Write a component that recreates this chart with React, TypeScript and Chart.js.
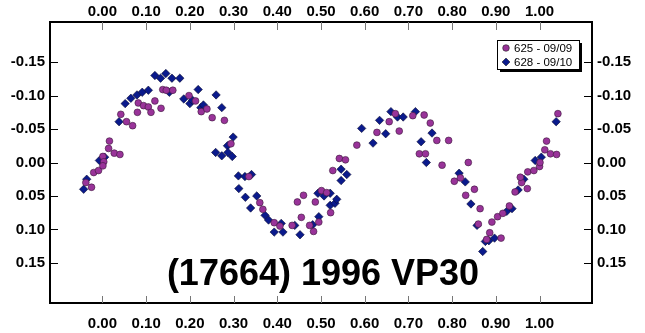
import React, { useEffect, useRef } from 'react';
import { Chart, registerables } from 'chart.js';

Chart.register(...registerables);

// ---- data ----
const xTicks = [0, 0.1, 0.2, 0.3, 0.4, 0.5, 0.6, 0.7, 0.8, 0.9, 1.0];
const yTicks = [-0.15, -0.1, -0.05, 0, 0.05, 0.1, 0.15];
const seriesLabels = ['625 - 09/09', '628 - 09/10'];
const titleText = '(17664) 1996 VP30';

const phase625 = [
  -0.038, -0.025, -0.020, -0.009, 0.001, 0.003, 0.001, 0.014, 0.016, 0.027, 0.040,
  0.042, 0.055, 0.069, 0.080, 0.082, 0.094, 0.105, 0.111, 0.120, 0.134, 0.138, 0.146, 0.161,
  0.198, 0.213, 0.226, 0.239, 0.251, 0.279, 0.294,
  0.335, 0.360, 0.367, 0.393, 0.406, 0.434, 0.446, 0.460, 0.455, 0.474, 0.483, 0.495, 0.487,
  0.501, 0.513, 0.522, 0.527, 0.542, 0.556, 0.582, 0.628, 0.656, 0.670, 0.679, 0.710, 0.736,
  0.750, 0.765, 0.792, 0.725, 0.739, 0.777, 0.837, 0.805, 0.819, 0.851, 0.831, 0.864, 0.860,
  0.891, 0.904, 0.916, 0.931, 0.886, 0.879, 0.912, 0.944, 0.959, 0.956, 0.972, 0.973, 0.987,
  1.000, 1.001, 1.012, 1.016, 1.025, 1.039, 1.042,
];
const mag625 = [
  0.030, 0.037, 0.015, 0.012, -0.009, -0.001, 0.005, -0.021, -0.032, -0.014, -0.012,
  -0.072, -0.061, -0.055, -0.075, -0.089, -0.085, -0.083, -0.075, -0.092, -0.081, -0.109, -0.108, -0.108,
  -0.100, -0.092, -0.076, -0.080, -0.067, -0.063, -0.028,
  0.021, 0.060, 0.070, 0.090, 0.095, 0.094, 0.059, 0.049, 0.082, 0.094, 0.103, 0.089, 0.059,
  0.042, 0.045, 0.075, 0.012, -0.006, -0.004, -0.026, -0.045, -0.061, -0.073, -0.047, -0.070, -0.071,
  -0.059, -0.033, -0.033, -0.013, -0.013, 0.004, 0.000, 0.028, 0.023, 0.040, 0.049, 0.069, 0.092,
  0.089, 0.081, 0.076, 0.065, 0.105, 0.115, 0.113, 0.044, 0.030, 0.022, 0.039, 0.014, 0.012,
  0.006, 0.000, -0.019, -0.032, -0.013, -0.012, -0.073,
];

const phase628 = [
  -0.043, -0.036, -0.007, 0.005, 0.038, 0.052, 0.065, 0.079, 0.091, 0.105, 0.120, 0.133, 0.145,
  0.153, 0.159, 0.177, 0.186, 0.200, 0.206, 0.219, 0.225, 0.231, 0.260, 0.273, 0.259, 0.273,
  0.286, 0.287, 0.299, 0.297, 0.311, 0.326, 0.341, 0.312, 0.327, 0.353, 0.339, 0.372, 0.380,
  0.409, 0.393, 0.413, 0.440, 0.452, 0.481, 0.495, 0.493, 0.507, 0.521, 0.521, 0.532, 0.536,
  0.546, 0.559, 0.546, 0.593, 0.619, 0.634, 0.648, 0.660, 0.675, 0.688, 0.716, 0.729, 0.754,
  0.741, 0.816, 0.830, 0.843, 0.857, 0.876, 0.884, 0.897, 0.870, 0.925, 0.937, 0.951, 0.964,
  0.990, 1.004, 1.038,
];
const mag628 = [
  0.040, 0.025, -0.003, -0.008, -0.061, -0.088, -0.096, -0.101, -0.105, -0.108, -0.130, -0.126, -0.133,
  -0.105, -0.126, -0.126, -0.095, -0.088, -0.093, -0.109, -0.082, -0.086, -0.101, -0.082, -0.015, -0.010,
  -0.025, -0.015, -0.038, -0.009, 0.020, 0.021, 0.018, 0.039, 0.052, 0.050, 0.068, 0.079, 0.086,
  0.091, 0.104, 0.104, 0.094, 0.108, 0.093, 0.081, 0.046, 0.050, 0.046, 0.064, 0.061, 0.055,
  0.027, 0.018, 0.010, -0.051, -0.029, -0.063, -0.043, -0.076, -0.068, -0.068, -0.076, -0.031, -0.044,
  0.000, 0.016, 0.029, 0.062, 0.094, 0.118, 0.117, 0.113, 0.133, 0.073, 0.069, 0.041, 0.025,
  -0.003, -0.008, -0.061,
];

// ---- styles ----
const FONT = "'Liberation Sans', Arial, Helvetica, sans-serif";
const C625 = '#993399';
const C628 = '#0a1a8c';

const fmt = (v: number) => {
  const r = Math.round(v * 100) / 100;
  if (Math.abs(r) < 1e-9) return '0.00';
  return r.toFixed(2);
};

const innerTicks = {
  id: 'innerTicks',
  afterDraw(chart: any) {
    const { ctx, chartArea: a, scales } = chart;
    ctx.save();
    ctx.lineWidth = 1;
    ctx.strokeStyle = '#777';
    for (const v of xTicks) {
      const px = Math.round(scales.x.getPixelForValue(v)) + 0.5;
      ctx.beginPath();
      ctx.moveTo(px, a.bottom);
      ctx.lineTo(px, a.bottom - 7);
      ctx.moveTo(px, a.top);
      ctx.lineTo(px, a.top + 8);
      ctx.stroke();
    }
    ctx.strokeStyle = '#000';
    for (const v of yTicks) {
      const py = Math.round(scales.y.getPixelForValue(v)) + 0.5;
      ctx.beginPath();
      ctx.moveTo(a.left, py);
      ctx.lineTo(a.left + 8, py);
      ctx.moveTo(a.right, py);
      ctx.lineTo(a.right - 8, py);
      ctx.stroke();
    }
    ctx.restore();
  },
};

const titleAndLegend = {
  id: 'titleAndLegend',
  afterDraw(chart: any) {
    const { ctx, chartArea: a } = chart;
    ctx.save();
    // title inside plot
    ctx.fillStyle = '#000';
    ctx.font = `bold 36px ${FONT}`;
    ctx.textAlign = 'center';
    ctx.textBaseline = 'alphabetic';
    ctx.fillText(titleText, (a.left + a.right) / 2 + 2, 285);

    // legend box
    const bx = 497, by = 40, bw = 82, bh = 29;
    ctx.fillStyle = '#000';
    ctx.fillRect(bx + 3, by + 3, bw, bh);
    ctx.fillStyle = '#fff';
    ctx.fillRect(bx, by, bw, bh);
    ctx.strokeStyle = '#000';
    ctx.lineWidth = 1;
    ctx.strokeRect(bx + 0.5, by + 0.5, bw, bh);

    ctx.font = `11.5px ${FONT}`;
    ctx.textAlign = 'left';
    ctx.textBaseline = 'middle';
    const rows = [
      { y: by + 8, label: seriesLabels[0], style: 'circle', color: C625 },
      { y: by + 22, label: seriesLabels[1], style: 'rectRot', color: C628 },
    ];
    for (const r of rows) {
      ctx.fillStyle = r.color;
      ctx.strokeStyle = '#222';
      ctx.lineWidth = 0.6;
      ctx.beginPath();
      if (r.style === 'circle') {
        ctx.arc(bx + 9, r.y, 3.3, 0, Math.PI * 2);
      } else {
        ctx.moveTo(bx + 9, r.y - 4);
        ctx.lineTo(bx + 13, r.y);
        ctx.lineTo(bx + 9, r.y + 4);
        ctx.lineTo(bx + 5, r.y);
        ctx.closePath();
      }
      ctx.fill();
      ctx.stroke();
      ctx.fillStyle = '#000';
      ctx.fillText(r.label, bx + 17, r.y + 0.5);
    }
    ctx.restore();
  },
};

const tickFont = { family: FONT, size: 15, weight: 'bold' as const };

function xAxis(position: 'top' | 'bottom', h: number, pad: number) {
  return {
    type: 'linear' as const,
    position,
    min: -0.12,
    max: 1.12,
    afterBuildTicks: (s: any) => {
      s.ticks = xTicks.map((v) => ({ value: v }));
    },
    afterFit: (s: any) => {
      s.height = h;
    },
    ticks: {
      font: tickFont,
      color: '#000',
      padding: pad,
      maxRotation: 0,
      autoSkip: false,
      callback: (v: any) => fmt(Number(v)),
    },
    grid: { display: true, drawOnChartArea: false, drawTicks: false },
    border: { display: true, color: '#000', width: 2 },
  };
}

function yAxis(position: 'left' | 'right', w: number) {
  return {
    type: 'linear' as const,
    position,
    reverse: true,
    min: -0.21,
    max: 0.21,
    afterBuildTicks: (s: any) => {
      s.ticks = yTicks.map((v) => ({ value: v }));
    },
    afterFit: (s: any) => {
      s.width = w;
    },
    ticks: {
      font: tickFont,
      color: '#000',
      padding: 5,
      autoSkip: false,
      callback: (v: any) => fmt(Number(v)),
    },
    grid: { display: true, drawOnChartArea: false, drawTicks: false },
    border: { display: true, color: '#000', width: 2 },
  };
}

export default function App() {
  const ref = useRef<HTMLCanvasElement | null>(null);

  useEffect(() => {
    document.body.style.margin = '0';
    const canvas = ref.current;
    if (!canvas) return;
    const chart = new Chart(canvas, {
      type: 'scatter',
      data: {
        datasets: [
          {
            label: seriesLabels[0],
            data: phase625.map((x, i) => ({ x, y: mag625[i] })),
            pointStyle: 'circle',
            pointRadius: 3.4,
            pointBackgroundColor: C625,
            pointBorderColor: '#3a1a3a',
            pointBorderWidth: 0.6,
          },
          {
            label: seriesLabels[1],
            data: phase628.map((x, i) => ({ x, y: mag628[i] })),
            pointStyle: 'rectRot',
            pointRadius: 4.2,
            pointBackgroundColor: C628,
            pointBorderColor: '#0a0a30',
            pointBorderWidth: 0.6,
          },
        ],
      },
      options: {
        animation: false,
        responsive: true,
        maintainAspectRatio: false,
        layout: { padding: 0 },
        plugins: {
          legend: { display: false },
          tooltip: { enabled: false },
          title: { display: false },
        },
        scales: {
          x: xAxis('bottom', 30, 12),
          x2: xAxis('top', 22, 1),
          y: yAxis('left', 50),
          y2: yAxis('right', 53),
        } as any,
      },
      plugins: [innerTicks, titleAndLegend],
    });
    return () => chart.destroy();
  }, []);

  return (
    <div style={{ position: 'absolute', left: 0, top: 0, width: 645, height: 333, background: '#fff' }}>
      <canvas ref={ref} />
    </div>
  );
}
